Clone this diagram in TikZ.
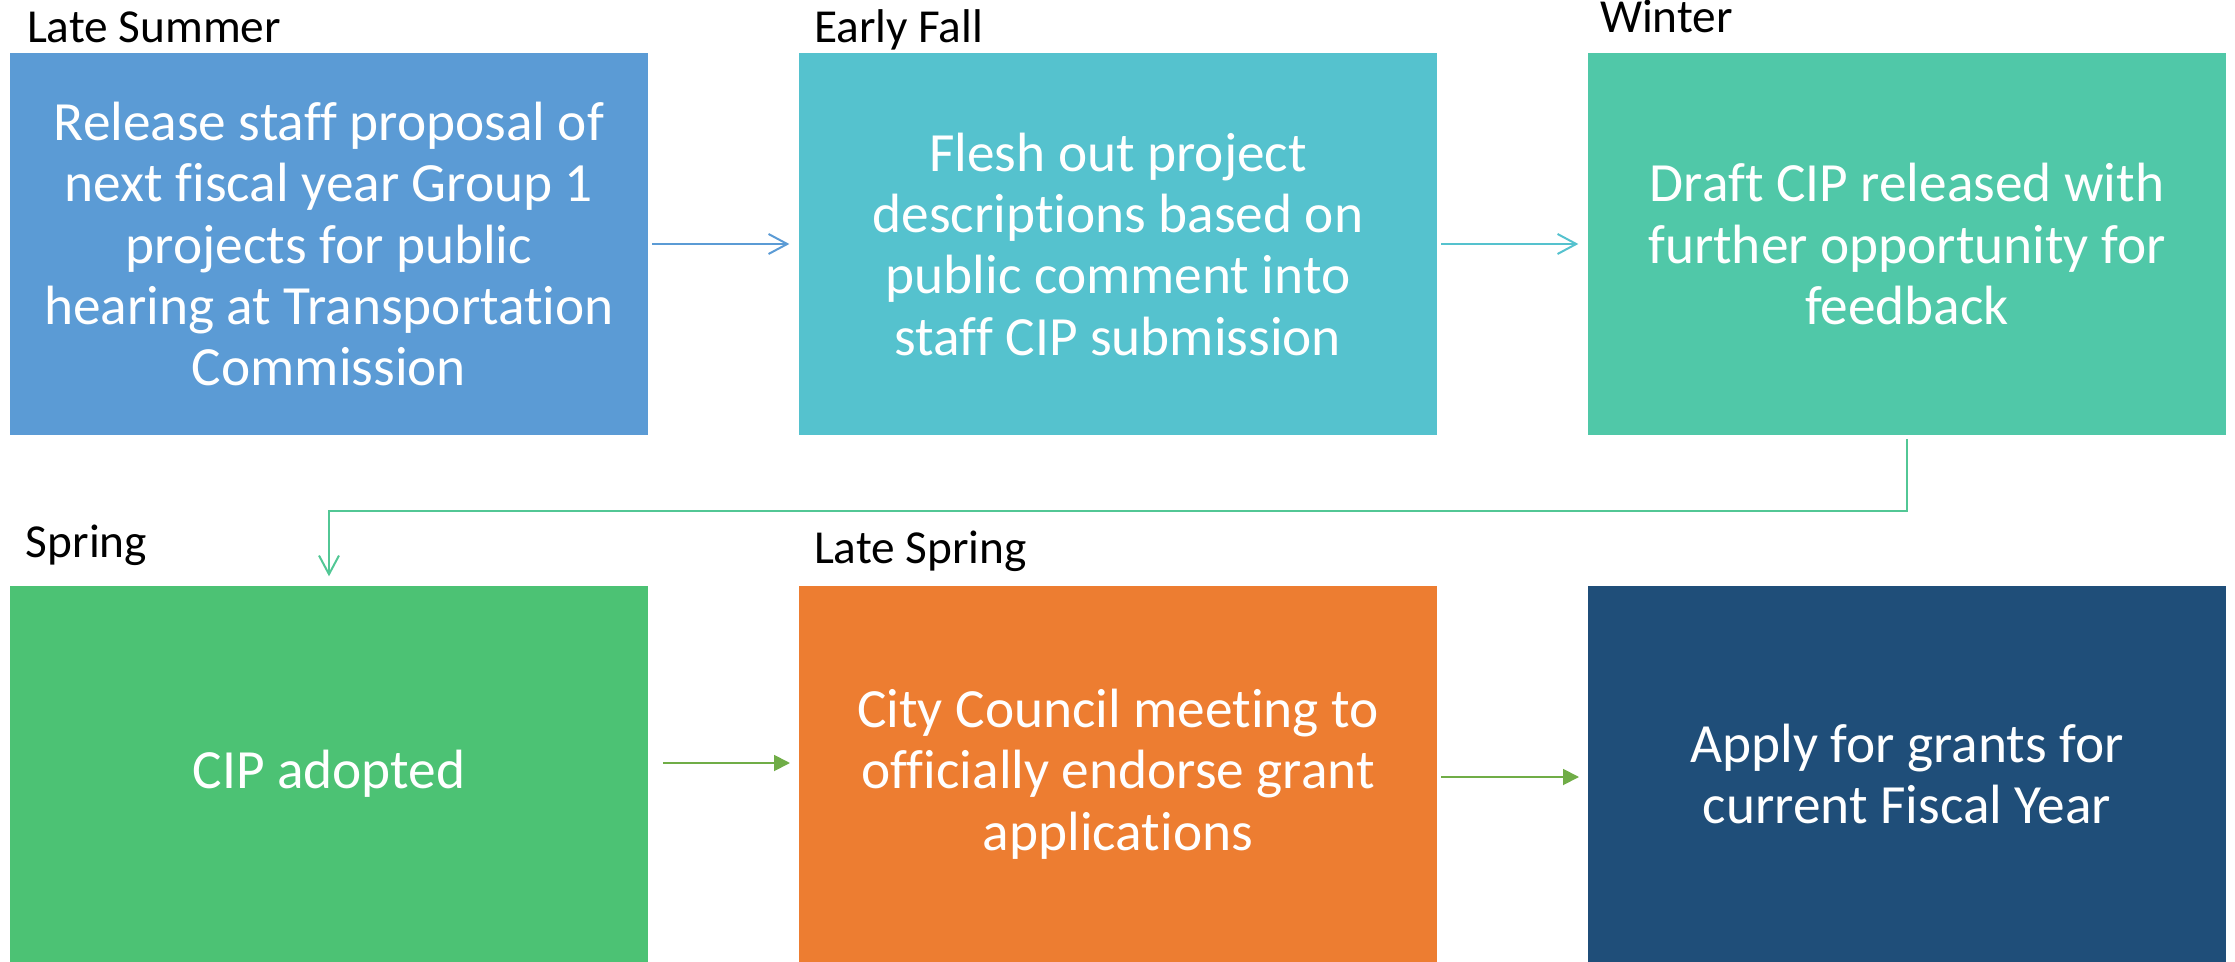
\documentclass[tikz,border=0pt]{standalone}
\usepackage{fontspec}
\setmainfont{Carlito}[Ligatures=NoCommon]
\usetikzlibrary{arrows.meta,calc}

\definecolor{sumblue}{HTML}{5B9BD5}
\definecolor{falcyan}{HTML}{55C2CE}
\definecolor{winteal}{HTML}{50C8A8}
\definecolor{sprgreen}{HTML}{4CC274}
\definecolor{lateorange}{HTML}{ED7D31}
\definecolor{grantnavy}{HTML}{1F4E79}
\definecolor{linkteal}{HTML}{52C795}
\definecolor{linkgreen}{HTML}{70AD47}

\begin{document}
\begin{tikzpicture}[
    x=0.75pt,y=0.75pt,
    yscale=-1,xscale=1,
    every path/.append style ={line width = 1.5pt,},
    stage/.style = {
        draw=none, inner sep=0pt, align=center, text=white,
        minimum width=478.5pt,
        font=\fontsize{41.5}{46}\selectfont,
    },
    season/.style = {
        anchor=base west, inner sep=0pt,
        font=\fontsize{35.5}{42}\selectfont,
    },
    barb/.style = {
        -{Straight Barb[length=14pt,width=15pt]},
        shorten <=2.25pt, shorten >=6.5pt,
    },
    tri/.style = {
        -{Triangle[length=12pt,width=12pt]},
        line width=1.4pt, draw=linkgreen,
    },
]
    \useasboundingbox (0,0) rectangle (2235,962);

    % 矩形
    \node [stage, fill=sumblue, minimum height=286.5pt] (b1) at (329,244) {
        Release staff proposal of\\next fiscal year Group 1\\projects for public\\hearing at Transportation\\Commission
    };
    \node [stage, fill=falcyan, minimum height=286.5pt] (b2) at (1118,244) {
        Flesh out project\\descriptions based on\\public comment into\\staff CIP submission
    };
    \node [stage, fill=winteal, minimum height=286.5pt] (b3) at (1907,244) {
        Draft CIP released with\\further opportunity for\\feedback
    };
    \node [stage, fill=sprgreen, minimum height=282pt] (b4) at (329,774) {CIP adopted};
    \node [stage, fill=lateorange, minimum height=282pt] (b5) at (1118,774) {
        City Council meeting to\\officially endorse grant\\applications
    };
    \node [stage, fill=grantnavy, minimum height=282pt] (b6) at (1907,774) {
        Apply for grants for\\current Fiscal Year
    };

    % 文本
    \node [season] (s1) at (26,43)  {Late Summer};
    \node [season] (s2) at (813,43) {Early Fall};
    \node [season] (s3) at (1599,33) {Winter};
    \node [season] (s4) at (25,557) {Spring};
    \node [season] (s5) at (813,563) {Late Spring};

    % 箭头
    \draw [barb, draw=sumblue] (b1.east) -- (b2.west);
    \draw [barb, draw=falcyan] (b2.east) -- (b3.west);
    \draw [barb, draw=linkteal] (b3.south) -- ($(b3.south)+(0,75)$) -| (b4.north);
    \draw [tri] ($(b4.east)+(14,-11)$) -- ($(b5.west)+(-8,-11)$);
    \draw [tri] ($(b5.east)+(3,3)$) -- ($(b6.west)+(-8,3)$);
\end{tikzpicture}
\end{document}
